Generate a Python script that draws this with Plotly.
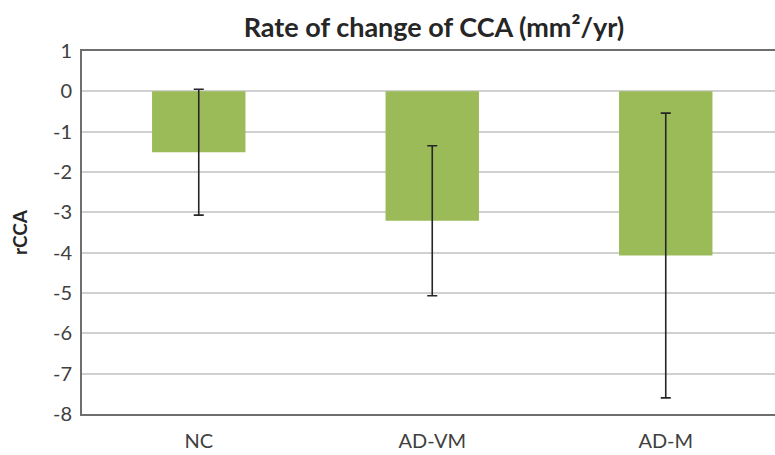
import plotly.graph_objects as go

categories = ["NC", "AD-VM", "AD-M"]
values = [-1.51, -3.21, -4.07]
errors = [1.56, 1.86, 3.53]
y_ticks = [1, 0, -1, -2, -3, -4, -5, -6, -7, -8]

font_family = "Lato, 'Open Sans', sans-serif"
fig_w = 785

fig = go.Figure()
fig.add_trace(go.Bar(
    x=list(range(len(categories))),
    y=values,
    width=0.40,
    marker=dict(color="#9BBB59", line=dict(width=0)),
    error_y=dict(type="data", array=errors, visible=True,
                 color="#262626", thickness=1.6, width=5),
))

fig.update_layout(
    width=fig_w, height=455,
    margin=dict(l=82, r=0, t=51, b=41, autoexpand=False),
    paper_bgcolor="white", plot_bgcolor="white",
    showlegend=False,
    title=dict(text="<b>Rate of change of CCA (mm²/yr)</b>",
               x=434 / fig_w, xanchor="center", y=1 - 28 / 455, yanchor="middle",
               font=dict(family=font_family, size=27, color="#262626")),
    font=dict(family=font_family, color="#404040"),
)
fig.update_xaxes(
    tickmode="array", tickvals=list(range(len(categories))), ticktext=categories,
    range=[-0.5, -0.5 + (fig_w - 82) / 233.5], showgrid=False, zeroline=False,
    showline=True, linecolor="#6E6E6E", linewidth=1.8, mirror=True,
    ticks="", ticklabelstandoff=8, tickfont=dict(size=20, color="#404040"),
)
fig.update_yaxes(
    range=[-8, 1], tickmode="array", tickvals=y_ticks,
    ticktext=[str(t) for t in y_ticks],
    showgrid=True, gridcolor="#D0D0D0", gridwidth=1.6,
    zeroline=True, zerolinecolor="#D0D0D0", zerolinewidth=1.6,
    showline=True, linecolor="#6E6E6E", linewidth=1.8, mirror=False,
    ticks="", ticklabelstandoff=4, tickfont=dict(size=20, color="#404040"),
    title=dict(text="<b>rCCA</b>", font=dict(size=19, color="#262626"), standoff=20),
)

fig.write_html(
    "out.html",
    config={"displayModeBar": False},
    post_script="document.body.style.margin='0';document.body.style.overflow='hidden';",
)
